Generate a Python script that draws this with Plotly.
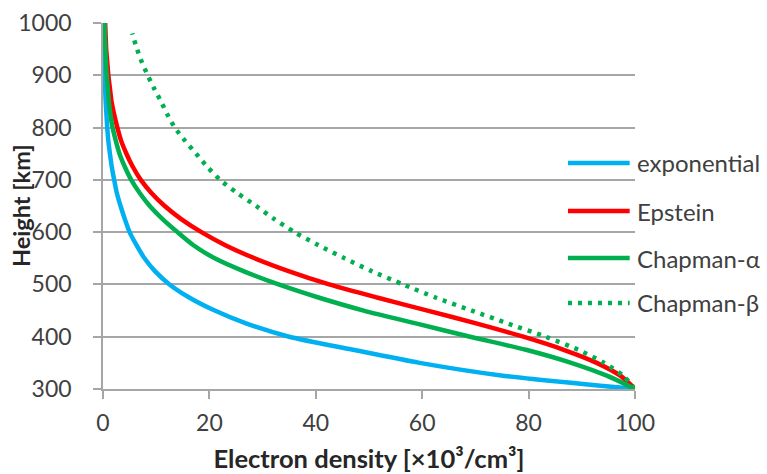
import plotly.graph_objects as go

# Electron density profiles (x 10^3 / cm^3) versus height (km)
height_exp = [300, 325, 350, 375, 400, 425, 450, 475, 500, 525, 550, 575, 600, 625,
              650, 675, 700, 725, 750, 775, 800, 825, 850, 875, 900, 925, 950, 975, 1000]
density_exp = [100, 75.5, 59.5, 47, 35, 27, 21, 16.2, 12.5, 9.8, 7.8, 6.3, 5.0, 4.1,
               3.3, 2.6, 2.1, 1.65, 1.3, 1.0, 0.8, 0.65, 0.5, 0.4, 0.3, 0.25, 0.2, 0.15, 0.1]

height_eps = [300, 325, 350, 375, 400, 425, 450, 475, 500, 525, 550, 575, 600, 625,
              650, 675, 700, 725, 750, 775, 800, 825, 850, 875, 900, 925, 950, 975, 1000]
density_eps = [100, 97.3, 92.8, 86.6, 79.0, 70.3, 61, 51.5, 42.5, 35, 28.5, 23, 18.5, 14.7,
               11.6, 9.1, 7.1, 5.6, 4.4, 3.4, 2.7, 2.1, 1.6, 1.3, 1.0, 0.8, 0.6, 0.5, 0.4]

height_cha = [300, 325, 350, 375, 400, 425, 450, 475, 500, 525, 550, 575, 600, 625,
              650, 675, 700, 725, 750, 775, 800, 825, 850, 875, 900, 925, 950, 975, 1000]
density_cha = [100, 94.8, 88, 79.5, 69, 59, 49, 40.5, 33, 26.5, 21, 17, 14, 11.2,
               8.8, 6.9, 5.3, 4.1, 3.1, 2.4, 1.8, 1.4, 1.1, 0.9, 0.7, 0.55, 0.45, 0.35, 0.3]

height_chb = [300, 325, 350, 375, 400, 425, 450, 475, 500, 525, 550, 575, 600, 625,
              650, 675, 700, 725, 750, 775, 800, 825, 850, 875, 900, 925, 950, 980]
density_chb = [100, 97.8, 94.2, 89.3, 83.2, 76.2, 69.3, 62.5, 56.4, 50.6, 45.4, 40.5, 36, 32.2,
               28.8, 25.2, 22, 19.6, 17.5, 15.4, 13.5, 12.1, 10.9, 9.6, 8.4, 7.3, 6.4, 5.5]

series_names = ["exponential", "Epstein", "Chapman-α", "Chapman-β"]
series_colors = ["#00B0F0", "#FF0000", "#00B050", "#00B050"]
series_dash = ["solid", "solid", "solid", "4px,6px"]

x_ticks = [0, 20, 40, 60, 80, 100]
y_ticks = [300, 400, 500, 600, 700, 800, 900, 1000]

FONT = "Lato"
TXT = "#404040"
TITLE = "#262626"
GRID = "#A6A6A6"

series = [
    (density_exp, height_exp),
    (density_eps, height_eps),
    (density_cha, height_cha),
    (density_chb, height_chb),
]

fig = go.Figure()
for (xs, ys), name, color, dash in zip(series, series_names, series_colors, series_dash):
    fig.add_trace(go.Scatter(
        x=xs, y=ys, name=name, mode="lines",
        line=dict(color=color, width=4.5, dash=dash, shape="spline", smoothing=0.7),
        showlegend=False,
    ))

# Legend: long line samples with labels, stacked on the right of the plot
legend_y = [0.6175, 0.4863, 0.3579, 0.235]
shapes = []
annotations = []
for name, color, dash, ly in zip(series_names, series_colors, series_dash, legend_y):
    shapes.append(dict(type="line", xref="paper", yref="paper",
                       x0=0.874, x1=0.99, y0=ly, y1=ly,
                       line=dict(color=color, width=4.5, dash=dash)))
    annotations.append(dict(xref="paper", yref="paper", x=1.0, y=ly,
                            xanchor="left", yanchor="middle", showarrow=False,
                            text=name, font=dict(family=FONT, size=24, color=TXT)))

# Vertical axis title
annotations.append(dict(xref="paper", yref="paper", x=(21 - 103) / 532, y=0.5,
                        xanchor="center", yanchor="middle", showarrow=False,
                        textangle=-90, text="<b>Height [km]</b>",
                        font=dict(family=FONT, size=23.5, color=TITLE)))

fig.update_layout(
    width=767, height=474,
    margin=dict(l=103, r=132, t=23, b=85, autoexpand=False),
    paper_bgcolor="white", plot_bgcolor="white",
    font=dict(family=FONT, size=23, color=TXT),
    shapes=shapes, annotations=annotations,
    xaxis=dict(
        range=[0, 100], tickvals=x_ticks, showgrid=False, zeroline=False,
        showline=True, linecolor=GRID, linewidth=1.5,
        ticks="outside", ticklen=8, tickcolor=GRID, tickwidth=1.5,
        ticklabelstandoff=5,
        tickfont=dict(family=FONT, size=23, color=TXT),
        title=dict(text="<b>Electron density [×10³/cm³]</b>", standoff=15,
                   font=dict(family=FONT, size=25.5, color=TITLE)),
    ),
    yaxis=dict(
        range=[300, 1000], tickvals=y_ticks, showgrid=True, gridcolor=GRID, gridwidth=1.5,
        zeroline=False, showline=True, linecolor=GRID, linewidth=1.5,
        ticks="outside", ticklen=8, tickcolor=GRID, tickwidth=1.5,
        ticklabelstandoff=17,
        tickfont=dict(family=FONT, size=23, color=TXT),
    ),
)

fig.write_html("out.html")
